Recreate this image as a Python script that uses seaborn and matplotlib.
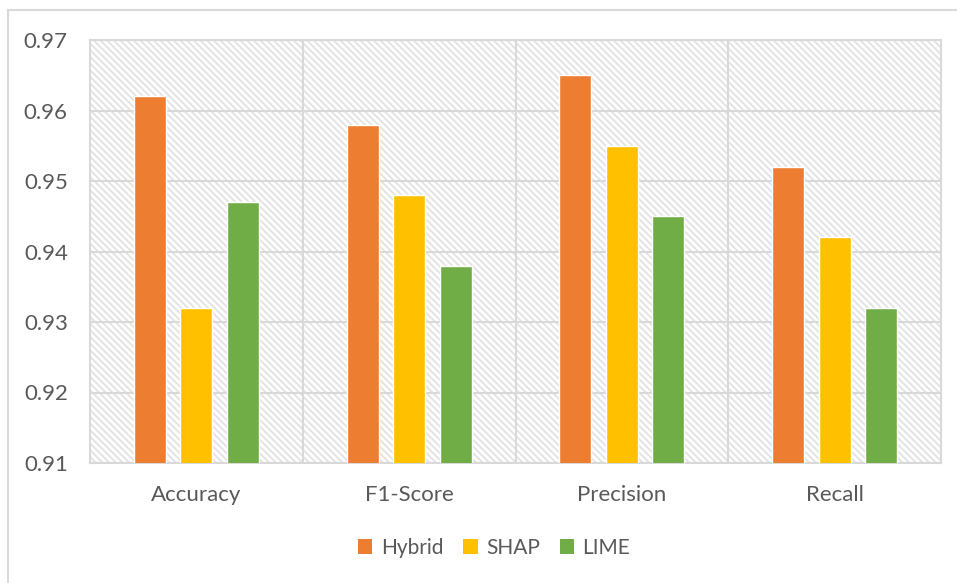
import matplotlib
matplotlib.use("Agg")
import matplotlib.pyplot as plt
from matplotlib.patches import Rectangle, Patch
import seaborn as sns
import pandas as pd

# Evaluation metrics for the three explanation approaches
metrics = ["Accuracy", "F1-Score", "Precision", "Recall"]
methods = ["Hybrid", "SHAP", "LIME"]
hybrid = [0.962, 0.958, 0.965, 0.952]
shap = [0.932, 0.948, 0.955, 0.942]
lime = [0.947, 0.938, 0.945, 0.932]
y_ticks = [0.91, 0.92, 0.93, 0.94, 0.95, 0.96, 0.97]

colors = ["#ED7D31", "#FFC000", "#70AD47"]
grid_c = "#D9D9D9"
hatch_c = "#E2E2E2"
text_c = "#595959"

rows = []
for name, vals in zip(methods, [hybrid, shap, lime]):
    for m, v in zip(metrics, vals):
        rows.append({"Metric": m, "Method": name, "Score": v})
df = pd.DataFrame(rows)

sns.set_theme(style="white")
plt.rcParams["font.family"] = ["Lato", "DejaVu Sans"]
plt.rcParams["hatch.color"] = hatch_c
plt.rcParams["hatch.linewidth"] = 1.3

fig = plt.figure(figsize=(9.57, 5.83), dpi=100)
ax = fig.add_axes([90 / 957, 1 - 463 / 583, (941 - 90) / 957, (463 - 40) / 583])

# hatched plot-area background
bg = Rectangle((0, 0), 1, 1, transform=ax.transAxes, facecolor="white",
               edgecolor=hatch_c, hatch="\\\\\\\\\\", linewidth=0, zorder=0.1)
ax.add_patch(bg)

sns.barplot(data=df, x="Metric", y="Score", hue="Method", order=metrics,
            hue_order=methods, palette=colors, width=0.655, gap=0.31,
            saturation=1, ax=ax, legend=False, zorder=3)

ax.set_ylim(0.91, 0.97)
ax.set_xlim(-0.5, 3.5)
ax.set_yticks(y_ticks)
ax.set_yticklabels([f"{t:.2f}" for t in y_ticks])
ax.set_xticks(range(len(metrics)))
ax.set_xticklabels(metrics)
ax.set_xticks([0.5, 1.5, 2.5], minor=True)
ax.set_axisbelow(True)
ax.grid(True, axis="y", which="major", color=grid_c, linewidth=1.5)
ax.grid(True, axis="x", which="minor", color=grid_c, linewidth=1.5)
ax.grid(False, axis="x", which="major")
ax.tick_params(axis="both", which="both", length=0, labelsize=16,
               labelcolor=text_c)
ax.tick_params(axis="y", pad=16)
ax.tick_params(axis="x", pad=16)
ax.set_xlabel("")
ax.set_ylabel("")
for s in ax.spines.values():
    s.set_color(grid_c)
    s.set_linewidth(1.5)
    s.set_visible(True)

handles = [Patch(facecolor=c, edgecolor="none") for c in colors]
leg = fig.legend(handles, methods, loc="center", bbox_to_anchor=(494 / 957, 1 - 548 / 583),
                 ncol=3, frameon=False, fontsize=15, handlelength=0.7,
                 handleheight=0.7, handletextpad=0.4, columnspacing=0.95)
for t in leg.get_texts():
    t.set_color(text_c)

# chart-area outline
fig.add_artist(Rectangle((8 / 957, -0.05), 1.1, 1 - 10 / 583 + 0.05,
                         transform=fig.transFigure, fill=False,
                         edgecolor=grid_c, linewidth=1.5, clip_on=False))

fig.savefig("out.png", dpi=100)
